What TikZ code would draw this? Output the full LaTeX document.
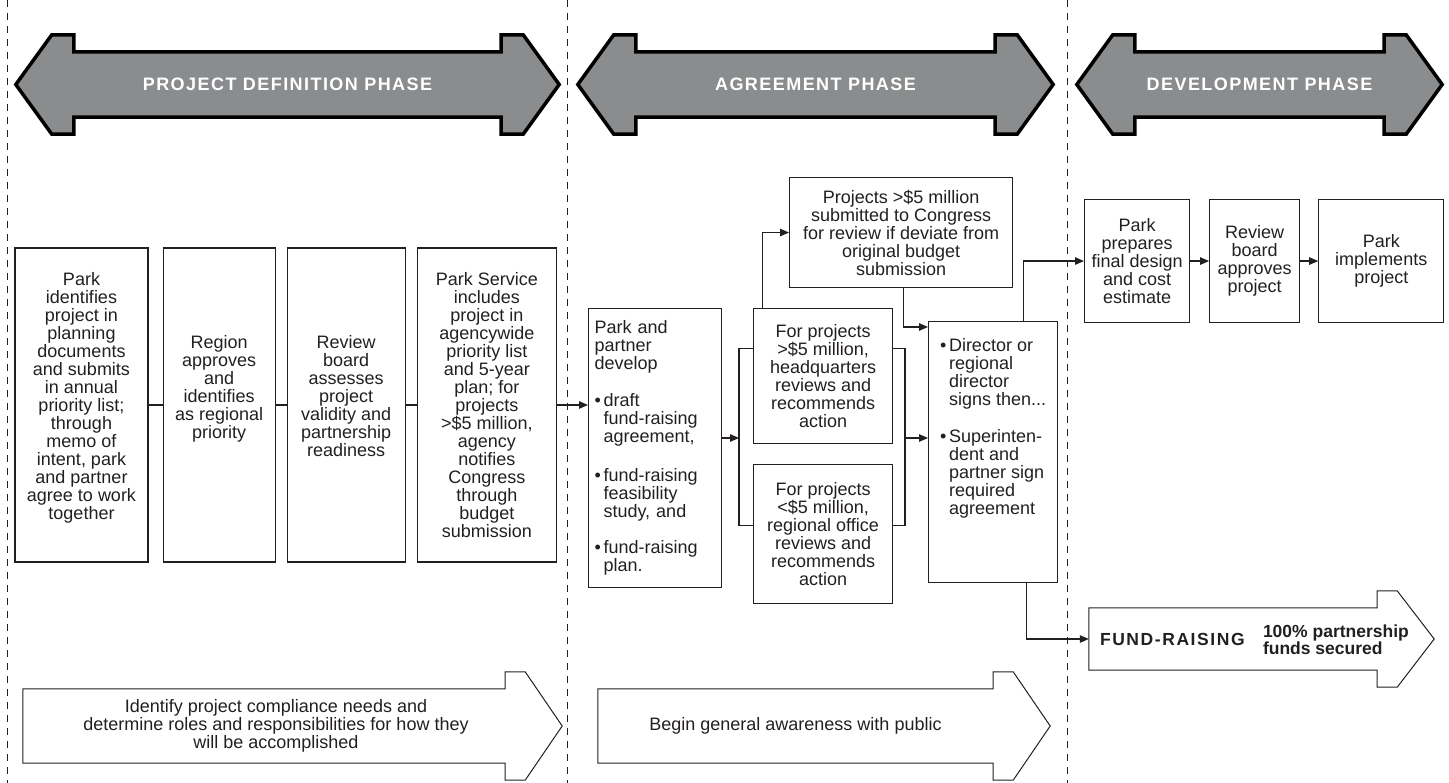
\documentclass[tikz,border=0pt]{standalone}
\usepackage{fontspec}
\setmainfont{Liberation Sans}
\usetikzlibrary{arrows.meta, positioning, calc, backgrounds}

\definecolor{phasegray}{HTML}{8B8C8E}
\definecolor{ink}{HTML}{231F20}

\newcommand{\bul}{\makebox[9pt][l]{\textbullet}}
\newcommand{\ind}{\hspace*{9pt}}

% banner with a head at both ends, drawn round a shaft node
\newcommand{\phasearrow}[1]{%
  \draw[phase] (#1.north west) -- ++(0,-17) -- ++(-22,0) -- ($(#1.west)+(-58,0)$)
    -- ($(#1.south west)+(-22,17)$) -- ++(22,0) -- (#1.south west)
    -- (#1.south east) -- ++(0,17) -- ++(22,0) -- ($(#1.east)+(58,0)$)
    -- ($(#1.north east)+(22,-17)$) -- ++(-22,0) -- (#1.north east) -- cycle;}
% one-headed arrow round a shaft node
\newcommand{\stagearrow}[1]{%
  \draw[stage] (#1.north west) -- (#1.north east) -- ++(0,-17) -- ++(20,0)
    -- ($(#1.east)+(57,0)$) -- ($(#1.south east)+(20,17)$) -- ++(-20,0)
    -- (#1.south east) -- (#1.south west) -- cycle;}

\begin{document}
\begin{tikzpicture}[
  x=1pt, y=-1pt,
  font=\fontsize{18}{18}\selectfont, text=ink,
  box/.style={draw=ink, line width=1.1pt, align=center, inner sep=2pt},
  line/.style={draw=ink, line width=1.1pt},
  arr/.style={line, -{Triangle[length=9pt, width=7.5pt]}},
  phase/.style={draw=black, line width=3.5pt, fill=phasegray},
  phasetxt/.style={text=white, font=\fontsize{18}{18}\selectfont\bfseries\addfontfeatures{LetterSpace=8}},
  stage/.style={draw=ink, line width=1pt},
  shaft/.style={inner sep=0pt, align=center},
  divider/.style={draw=ink, line width=0.9pt, dash pattern=on 7pt off 6pt}
]
\useasboundingbox (0,0) rectangle (1449,783);

\draw[divider] (7,0) -- (7,783);
\draw[divider] (567,0) -- (567,783);
\draw[divider] (1067,0) -- (1067,783);

\node[shaft, phasetxt, minimum width=427, minimum height=65] (defn) at (287.5,84.5) {PROJECT DEFINITION PHASE};
\node[shaft, phasetxt, minimum width=359, minimum height=65] (agree) at (815.5,84.5) {AGREEMENT PHASE};
\node[shaft, phasetxt, minimum width=249, minimum height=65] (devel) at (1259.5,84.5) {DEVELOPMENT PHASE};

\node[box, minimum width=133, minimum height=314] (b1) at (81.5,405) {Park\\identifies\\project in\\planning\\documents\\and submits\\in annual\\priority list;\\through\\memo of\\intent, park\\and partner\\agree to work\\together\\~};
\node[box, minimum width=112, minimum height=314, right=14pt of b1] (b2) {Region\\approves\\and\\identifies\\as regional\\priority\\~\\~};
\node[box, minimum width=118, minimum height=314, right=11pt of b2] (b3) {Review\\board\\assesses\\project\\validity and\\partnership\\readiness\\~};
\node[box, minimum width=139, minimum height=314, right=11pt of b3] (b4) {Park Service\\includes\\project in\\agencywide\\priority list\\and 5-year\\plan; for\\projects\\>\$5 million,\\agency\\notifies\\Congress\\through\\budget\\submission};

\node[box, align=left, text width=121, inner xsep=6pt, minimum height=279, anchor=north west] (pp) at (588,308) {Park and\\partner\\develop\\[19pt]\bul draft\\\ind fund-raising\\\ind agreement,\\[21pt]\bul fund-raising\\\ind feasibility\\\ind study, and\\[18pt]\bul fund-raising\\\ind plan.};
\node[box, minimum width=139, minimum height=135, anchor=north west] (hq) at (753,308) {For projects\\>\$5 million,\\headquarters\\reviews and\\recommends\\action};
\node[box, minimum width=139, minimum height=139, below=20pt of hq] (reg) {For projects\\<\$5 million,\\regional office\\reviews and\\recommends\\action};
\node[box, minimum width=223, minimum height=110, anchor=north west] (cong) at (789,177) {Projects >\$5 million\\submitted to Congress\\for review if deviate from\\original budget\\submission};
\node[box, align=left, minimum width=129, minimum height=261, anchor=north west] (dir) at (928,321) {\bul Director or\\\ind regional\\\ind director\\\ind signs then...\\[19pt]\bul Superinten-\\\ind dent and\\\ind partner sign\\\ind required\\\ind agreement\\[33pt]~};

\node[box, minimum width=105, minimum height=123, anchor=north west] (prep) at (1084,199) {Park\\prepares\\final design\\and cost\\estimate};
\node[box, minimum width=90, minimum height=123, right=19pt of prep] (rev) {Review\\board\\approves\\project};
\node[box, minimum width=125, minimum height=123, right=18pt of rev] (impl) {Park\\implements\\project};

\node[shaft, minimum width=482, minimum height=74] (comply) at (264,726) {\hspace*{24pt}Identify project compliance needs and\\\hspace*{24pt}determine roles and responsibilities for how they\\\hspace*{24pt}will be accomplished};
\node[shaft, minimum width=395, minimum height=74] (aware) at (795.5,726) {Begin general awareness with public};
\node[shaft, minimum width=288, minimum height=62] (fund) at (1233,639) {};
\node[anchor=west, inner sep=0pt, font=\fontsize{17.5}{17.5}\selectfont\bfseries\addfontfeatures{LetterSpace=9}] (fundlbl) at ([xshift=11pt]fund.west) {FUND-RAISING};
\node[anchor=west, inner sep=0pt, align=left, font=\fontsize{17.5}{15}\selectfont\bfseries] (secured) at ([xshift=174pt, yshift=-1pt]fund.west) {100\% partnership\\funds secured};

\begin{scope}[on background layer]
\phasearrow{defn}
\phasearrow{agree}
\phasearrow{devel}
\stagearrow{comply}
\stagearrow{aware}
\stagearrow{fund}
\end{scope}

\coordinate (fl) at (739,438);
\coordinate (fr) at (905,438);
\draw[line] (b1) -- (b2);
\draw[line] (b2) -- (b3);
\draw[line] (b3) -- (b4);
\draw[arr] (b4.east) -- (b4.east -| pp.west);
\draw[arr] (pp.east |- fl) -- (fl);
\draw[line] ([yshift=27.5pt]hq.west) -| (fl) |- ([yshift=8.5pt]reg.west);
\draw[line] ([yshift=27.5pt]hq.east) -| (fr) |- ([yshift=8.5pt]reg.east);
\draw[arr] (fr) -- (fr -| dir.west);
\draw[arr] ([xshift=-60.5pt]hq.north) |- (cong.west);
\draw[arr] ([xshift=2.5pt]cong.south) |- ([yshift=-6pt]dir.north west);
\draw[arr] ([xshift=30.5pt]dir.north) |- (prep.west);
\draw[arr] (prep) -- (rev);
\draw[arr] (rev) -- (impl);
\draw[arr] ([xshift=33.5pt]dir.south) |- (fund.west);
\end{tikzpicture}
\end{document}
